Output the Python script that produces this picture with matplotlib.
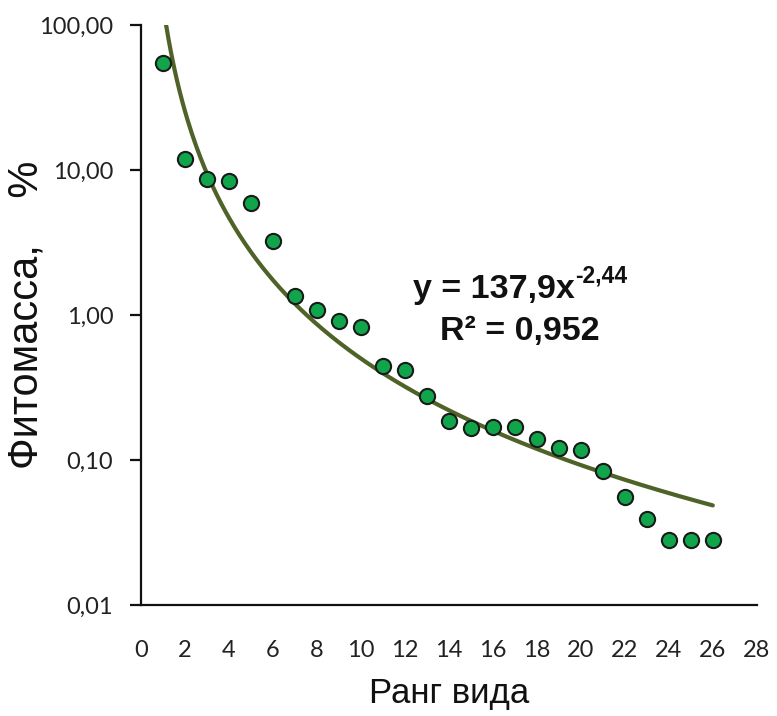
import numpy as np
import matplotlib
matplotlib.use("Agg")
import matplotlib.pyplot as plt

# Species rank and phytomass share (%)
rank = [1, 2, 3, 4, 5, 6, 7, 8, 9, 10, 11, 12, 13,
        14, 15, 16, 17, 18, 19, 20, 21, 22, 23, 24, 25, 26]
phytomass = [54.7, 11.9, 8.67, 8.4, 5.9, 3.24, 1.35, 1.08, 0.91, 0.83, 0.445, 0.42, 0.276,
             0.186, 0.166, 0.168, 0.168, 0.14, 0.121, 0.117, 0.084, 0.0556, 0.039, 0.028, 0.028, 0.028]

# Power trend y = a * x^b
fit_a = 137.9
fit_b = -2.44
r_squared = 0.952

y_ticks = [0.01, 0.1, 1, 10, 100]
y_tick_labels = ["0,01", "0,10", "1,00", "10,00", "100,00"]
x_ticks = list(range(0, 29, 2))

fig = plt.figure(figsize=(7.77, 7.16), dpi=100)
ax = fig.add_axes([0.1815, 0.155, 0.7925, 0.81])

xs = np.linspace(1, 26, 400)
ax.plot(xs, fit_a * xs ** fit_b, color="#4F6228", lw=3.0, zorder=2, solid_capstyle="round")
ax.scatter(rank, phytomass, s=120, color="#10A54A", edgecolors="#1a1a1a",
           linewidths=1.5, zorder=3, clip_on=False)

ax.set_yscale("log")
ax.set_ylim(0.01, 100)
ax.set_xlim(0, 28)
ax.set_yticks(y_ticks)
ax.set_yticklabels(y_tick_labels)
ax.yaxis.set_minor_locator(matplotlib.ticker.NullLocator())
ax.set_xticks(x_ticks)
ax.set_xticklabels([str(v) for v in x_ticks])

for s in ("top", "right"):
    ax.spines[s].set_visible(False)
for s in ("left", "bottom"):
    ax.spines[s].set_linewidth(1.6)
    ax.spines[s].set_color("#111111")

for lab in ax.get_xticklabels() + ax.get_yticklabels():
    lab.set_fontfamily(["Lato", "DejaVu Sans"])
    lab.set_fontsize(17)
    lab.set_color("#222222")
ax.tick_params(axis="y", length=8, width=1.6, pad=12, color="#111111")
ax.tick_params(axis="x", length=0, pad=25)

label_family = ["Liberation Sans", "DejaVu Sans"]
ax.set_xlabel("Ранг вида", fontsize=25, family=label_family,
              labelpad=12, color="#111111")
ax.yaxis.set_label_coords(-0.153, 0.482)
ax.set_ylabel("Фитомасса,    %", fontsize=30, family=label_family, color="#111111")

eq_style = dict(transform=ax.transAxes, fontweight="bold", family=label_family,
                color="#111111", va="baseline")
ax.text(0.7045, 0.529, "y = 137,9x", fontsize=24.5, ha="right", **eq_style)
ax.text(0.7045, 0.556, "-2,44", fontsize=16.5, ha="left", **eq_style)
ax.text(0.615, 0.457, "R² = 0,952", fontsize=24.5, ha="center", **eq_style)

fig.savefig("out.png", dpi=100, facecolor="white")
